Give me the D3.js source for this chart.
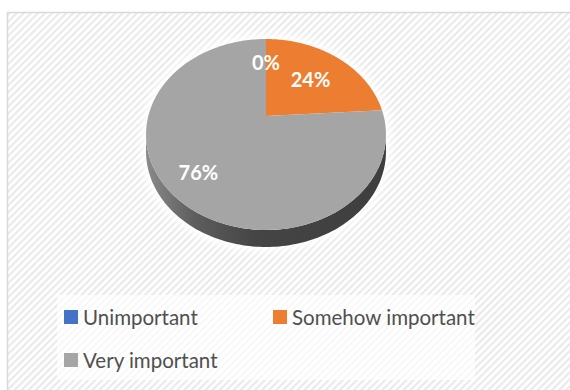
<!DOCTYPE html>
<html>
<head>
<meta charset="utf-8">
<script src="https://cdn.jsdelivr.net/npm/d3@7"></script>
<style>
  html, body { margin: 0; padding: 0; background: #ffffff; }
  svg { display: block; }
</style>
</head>
<body>
<svg id="chart" width="570" height="390"></svg>
<script>
// Survey answers and their shares (percent)
const categories = ["Unimportant", "Somehow important", "Very important"];
const values = [0, 24, 76];
const colors = ["#4472c4", "#ed7d31", "#a5a5a5"];

// Label distance from the centre, as a fraction of the radius
const labelRadius = [0.66, 0.6, 0.75];

const W = 570, H = 390;
const svg = d3.select("#chart");
const defs = svg.append("defs");

// Diagonal hatch used for the chart area fill
const hatch = defs.append("pattern")
  .attr("id", "hatch")
  .attr("patternUnits", "userSpaceOnUse")
  .attr("width", 5).attr("height", 5)
  .attr("patternTransform", "rotate(45)");
hatch.append("rect").attr("width", 5).attr("height", 5).attr("fill", "#ffffff");
hatch.append("rect").attr("width", 2.2).attr("height", 5).attr("fill", "#eaeaea");

// Chart frame
svg.append("rect")
  .attr("x", 7.5).attr("y", 12.5)
  .attr("width", W).attr("height", H)
  .attr("fill", "url(#hatch)")
  .attr("stroke", "#d9d9d9").attr("stroke-width", 1.5);

// Perspective projection of the pie disc
const cx = 266, cy = 116;        // projected centre of the top face
const A = 117.7, B = 91.9, k = 0.1937;
const depth = 17;                 // thickness of the disc
const proj = (theta, f = 1, dy = 0) => {
  const u = f * Math.sin(theta), v = f * Math.cos(theta);
  const w = 1 + k * v;
  return [cx + A * u / w, cy - B * v / w + dy];
};
const rim = (a0, a1, dy = 0, n = 120) => d3.range(n + 1).map(i => proj(a0 + (a1 - a0) * i / n, 1, dy));
const line = d3.line();

const pie = d3.pie().sort(null).value(d => d)(values);

// Silhouette angles of the rim (where it turns vertical)
const tA = Math.acos(-k), tB = 2 * Math.PI - Math.acos(-k);

// Soft white halo under the disc
const glow = defs.append("filter").attr("id", "glow")
  .attr("x", "-20%").attr("y", "-20%").attr("width", "140%").attr("height", "140%");
glow.append("feGaussianBlur").attr("stdDeviation", 4);
svg.append("path")
  .attr("d", line(rim(tA, tB, depth).concat(rim(tB, tA + 2 * Math.PI, 0))) + "Z")
  .attr("fill", "#ffffff").attr("stroke", "#ffffff").attr("stroke-width", 8)
  .attr("filter", "url(#glow)");

// Side wall gradient
const grad = defs.append("linearGradient").attr("id", "side")
  .attr("gradientUnits", "userSpaceOnUse")
  .attr("x1", cx - A * 1.02).attr("x2", cx + A * 1.02).attr("y1", 0).attr("y2", 0);
grad.append("stop").attr("offset", "0%").attr("stop-color", "#8a8a8a");
grad.append("stop").attr("offset", "20%").attr("stop-color", "#5e5e5e");
grad.append("stop").attr("offset", "45%").attr("stop-color", "#454545");
grad.append("stop").attr("offset", "100%").attr("stop-color", "#3e3e3e");

// Visible side wall of each slice (front half only)
pie.forEach((d, i) => {
  const a0 = Math.max(d.startAngle, tA), a1 = Math.min(d.endAngle, tB);
  if (a1 <= a0) return;
  const pts = rim(a0, a1, 0).concat(rim(a1, a0, depth));
  svg.append("path").attr("d", line(pts) + "Z").attr("fill", "url(#side)");
});

// Top faces
pie.forEach((d, i) => {
  if (d.endAngle - d.startAngle <= 0) return;
  const pts = [proj(0, 0)].concat(rim(d.startAngle, d.endAngle, 0));
  svg.append("path").attr("d", line(pts) + "Z").attr("fill", colors[i]);
});

// Data labels
pie.forEach((d, i) => {
  const mid = (d.startAngle + d.endAngle) / 2;
  const [x, y] = proj(mid, labelRadius[i]);
  svg.append("text")
    .attr("x", x).attr("y", y)
    .attr("text-anchor", "middle").attr("dominant-baseline", "central")
    .attr("font-family", "Lato, 'Open Sans', sans-serif")
    .attr("font-weight", "bold").attr("font-size", 20)
    .attr("fill", "#ffffff")
    .text(d3.format(".0%")(values[i] / 100));
});

// Legend
svg.append("rect")
  .attr("x", 57).attr("y", 295).attr("width", 418).attr("height", 85)
  .attr("fill", "#ffffff").attr("opacity", 0.65);
const legendPos = [[64, 325], [273, 325], [64, 368]];
categories.forEach((c, i) => {
  const [x, y] = legendPos[i];
  svg.append("rect").attr("x", x).attr("y", y - 15).attr("width", 14).attr("height", 14)
    .attr("fill", colors[i]);
  svg.append("text")
    .attr("x", x + 19).attr("y", y)
    .attr("font-family", "Lato, 'Open Sans', sans-serif")
    .attr("font-size", 20.5).attr("fill", "#505050")
    .text(c);
});
</script>
</body>
</html>
